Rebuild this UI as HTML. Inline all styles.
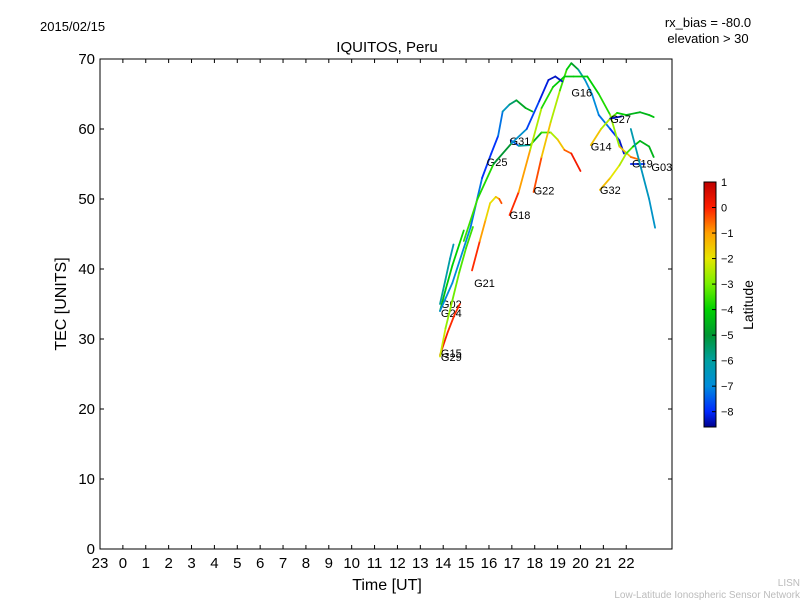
<!DOCTYPE html>
<html><head><meta charset="utf-8"><style>
body{margin:0;background:#fff;}
svg text{font-family:"Liberation Sans",sans-serif;}
</style></head><body>
<svg id="chart" width="800" height="600" xmlns="http://www.w3.org/2000/svg">
<defs><linearGradient id="cbg" x1="0" y1="1" x2="0" y2="0"></linearGradient></defs>
<text x="40" y="31" font-size="13">2015/02/15</text>
<text x="708" y="27" font-size="13" text-anchor="middle">rx_bias = -80.0</text>
<text x="708" y="43" font-size="13" text-anchor="middle">elevation &gt; 30</text>
<text x="387" y="52" font-size="15" text-anchor="middle">IQUITOS, Peru</text>
<g id="marks"></g>
<rect x="100" y="59" width="572" height="490" fill="none" stroke="#000" stroke-width="1"/>
<g id="axes"></g>
<text x="387" y="590" font-size="16" text-anchor="middle">Time [UT]</text>
<text transform="translate(66,304) rotate(-90)" font-size="16" text-anchor="middle">TEC [UNITS]</text>
<rect x="704" y="182" width="12" height="245" fill="url(#cbg)" stroke="#000" stroke-width="1"/>
<g id="cbticks"></g>
<text transform="translate(753,305) rotate(-90)" font-size="14" text-anchor="middle">Latitude</text>
<text x="800" y="586" font-size="10" fill="#bbb" text-anchor="end">LISN</text>
<text x="800" y="598" font-size="10" fill="#bbb" text-anchor="end">Low-Latitude Ionospheric Sensor Network</text>
</svg>
<script>
const xTickLabels=["23","0","1","2","3","4","5","6","7","8","9","10","11","12","13","14","15","16","17","18","19","20","21","22"];
const yTicks=[0,10,20,30,40,50,60,70];
const cbTicks=[1,0,-1,-2,-3,-4,-5,-6,-7,-8];
const trackNames=["G02","G24","G15","G29","G21","G25","G31","G22","G18","G16","G14","G27","G32","G19","G03"];
const trackTimes=[
 [13.86,14.1,14.3,14.45],
 [13.86,14.1,14.4,14.7,14.9],
 [13.86,14.2,14.5,14.73],
 [13.86,14.1,14.4,14.7,15.0,15.3],
 [15.26,15.6,15.85,16.05,16.3,16.45,16.55],
 [13.86,14.4,15.2,15.7,16.1,16.4,16.6,16.9,17.2,17.6,17.9],
 [16.95,17.3,17.8,18.3,18.7,19.0,19.3,19.6,20.0],
 [17.95,18.3,18.7,19.1,19.4,19.6,19.9,20.2,20.5,20.8,21.3,21.7,21.9],
 [16.9,17.3,17.8,18.3,18.8,19.3,19.7,20.3,20.8,21.3,21.7,22.2,22.6],
 [14.9,15.5,16.2,17.0,17.65,18.2,18.6,18.9,19.2],
 [20.45,20.9,21.3,21.6,22.0,22.6,23.0,23.2],
 [21.3,21.5,21.8],
 [20.85,21.3,21.7,22.0,22.3,22.6,23.0,23.2],
 [22.2,22.5,22.8],
 [22.2,22.6,23.0,23.26]
];
const trackValues=[
 [35.0,38.5,41.5,43.5],
 [34.0,37.0,40.5,43.5,45.5],
 [27.7,31.0,33.5,35.0],
 [27.5,31.5,35.5,39.5,43.0,46.0],
 [39.8,44.0,47.0,49.4,50.3,50.0,49.4],
 [34.0,38.0,46.0,53.0,56.5,59.0,62.5,63.5,64.1,63.0,62.5],
 [58.4,57.6,57.7,59.5,59.5,58.5,57.0,56.5,54.0],
 [51.0,56.0,61.0,65.5,68.5,69.4,68.5,67.0,65.0,62.0,60.0,58.4,56.5],
 [47.7,51.0,57.0,63.0,66.0,67.5,67.5,67.5,65.0,62.0,57.5,56.0,55.6],
 [44.0,50.0,55.0,58.0,60.0,64.0,67.0,67.5,66.8],
 [57.7,60.0,61.5,62.3,62.0,62.4,62.0,61.7],
 [61.5,61.6,61.8],
 [51.3,53.0,54.8,56.5,57.5,58.3,57.5,56.0],
 [55.0,55.0,55.0],
 [60.0,55.0,50.0,45.9]
];
const trackLats=[
 [-6.0,-6.0,-6.2,-6.5],
 [-4.5,-4.2,-4.0,-4.0,-3.8],
 [0.2,0.0,-0.2,0.0],
 [-2.0,-2.5,-3.0,-3.2,-3.5,-3.5],
 [0.3,-0.5,-1.5,-2.0,-1.8,-1.0,0.2],
 [-7.0,-7.0,-7.0,-7.5,-8.3,-7.5,-7.0,-6.0,-5.0,-4.5,-4.5],
 [-8.0,-7.0,-5.0,-4.0,-3.0,-2.0,-1.0,0.0,0.3],
 [0.3,-1.0,-2.0,-3.0,-4.0,-4.2,-5.5,-6.5,-7.0,-7.0,-7.5,-8.3,-8.3],
 [0.3,-0.5,-1.5,-3.5,-4.0,-4.2,-4.2,-4.0,-4.0,-3.5,-2.0,-1.0,-0.2],
 [-3.5,-3.5,-4.0,-6.0,-7.5,-8.0,-8.3,-8.3,-8.3],
 [-1.0,-2.0,-3.0,-3.5,-4.5,-4.5,-4.5,-4.0],
 [-8.3,-8.3,-8.3],
 [-1.0,-1.8,-2.2,-2.8,-4.0,-4.5,-4.5,-4.5],
 [-8.2,-8.0,-7.8],
 [-6.0,-6.5,-6.5,-6.8]
];
const labelT=[13.9,13.9,13.9,13.9,15.35,15.9,16.9,17.95,16.9,19.6,20.45,21.3,20.85,22.25,23.1];
const labelV=[35.0,33.7,28.0,27.4,38.0,55.3,58.3,51.2,47.7,65.2,57.5,61.4,51.3,55.1,54.6];

const X=t=>100+(t+1)*572/25;
const Y=v=>549-v*7;
const CB=l=>427-(l+8.6)*245/9.6;
const NS="http://www.w3.org/2000/svg";
const stops=[[-8.6,[0,0,140]],[-8,[0,40,255]],[-7,[0,140,220]],[-6,[0,160,160]],[-5,[0,150,50]],[-4,[0,210,0]],[-3,[120,240,0]],[-2,[230,230,0]],[-1,[255,160,0]],[0,[255,30,0]],[1,[190,0,0]]];
function col(l){l=Math.max(-8.6,Math.min(1,l));for(let i=0;i<stops.length-1;i++){const a=stops[i],b=stops[i+1];if(l<=b[0]){const f=(l-a[0])/(b[0]-a[0]);const c=a[1].map((v,k)=>Math.round(v+(b[1][k]-v)*f));return `rgb(${c})`;}}return 'rgb(190,0,0)';}
const grad=document.getElementById('cbg');
stops.forEach(s=>{const st=document.createElementNS(NS,'stop');st.setAttribute('offset',((s[0]+8.6)/9.6));st.setAttribute('stop-color',`rgb(${s[1]})`);grad.appendChild(st);});
const marks=document.getElementById('marks');
trackTimes.forEach((ts,i)=>{
 const vs=trackValues[i];const ls=trackLats[i];const n=ts.length;
 const g=document.createElementNS(NS,'g');
 
 
 for(let j=0;j<n-1;j++){
  const ln=document.createElementNS(NS,'line');
  ln.setAttribute('x1',X(ts[j]));ln.setAttribute('y1',Y(vs[j]));
  ln.setAttribute('x2',X(ts[j+1]));ln.setAttribute('y2',Y(vs[j+1]));
  ln.setAttribute('stroke',col((ls[j]+ls[j+1])/2));ln.setAttribute('stroke-width','1.8');ln.setAttribute('stroke-linecap','round');
  
  
  g.appendChild(ln);
 }
 marks.appendChild(g);
 const tx=document.createElementNS(NS,'text');
 tx.setAttribute('x',X(labelT[i]));tx.setAttribute('y',Y(labelV[i])+4);tx.setAttribute('font-size','11');
 tx.textContent=trackNames[i];
 
 
 marks.appendChild(tx);
});
const axes=document.getElementById('axes');
xTickLabels.forEach((lab,i)=>{
 const t=i-1;const x=X(t);
 [[549,545],[59,63]].forEach(p=>{const l=document.createElementNS(NS,'line');l.setAttribute('x1',x);l.setAttribute('x2',x);l.setAttribute('y1',p[0]);l.setAttribute('y2',p[1]);l.setAttribute('stroke','#000');
 
 axes.appendChild(l);});
 const tx=document.createElementNS(NS,'text');tx.setAttribute('x',x);tx.setAttribute('y',568);tx.setAttribute('font-size','15');tx.setAttribute('text-anchor','middle');tx.textContent=lab;
 
 axes.appendChild(tx);
});
yTicks.forEach(v=>{
 const y=Y(v);
 [[100,104],[672,668]].forEach(p=>{const l=document.createElementNS(NS,'line');l.setAttribute('x1',p[0]);l.setAttribute('x2',p[1]);l.setAttribute('y1',y);l.setAttribute('y2',y);l.setAttribute('stroke','#000');
 
 axes.appendChild(l);});
 const tx=document.createElementNS(NS,'text');tx.setAttribute('x',95);tx.setAttribute('y',y+5);tx.setAttribute('font-size','15');tx.setAttribute('text-anchor','end');tx.textContent=v;
 
 axes.appendChild(tx);
});
const cbt=document.getElementById('cbticks');
cbTicks.forEach(v=>{
 const y=CB(v);
 const l=document.createElementNS(NS,'line');l.setAttribute('x1',712);l.setAttribute('x2',716);l.setAttribute('y1',y);l.setAttribute('y2',y);l.setAttribute('stroke','#000');
 
 cbt.appendChild(l);
 const tx=document.createElementNS(NS,'text');tx.setAttribute('x',721);tx.setAttribute('y',y+4);tx.setAttribute('font-size','11');tx.textContent=v<0?'\u2212'+(-v):v;
 
 cbt.appendChild(tx);
});
</script>
</body></html>
